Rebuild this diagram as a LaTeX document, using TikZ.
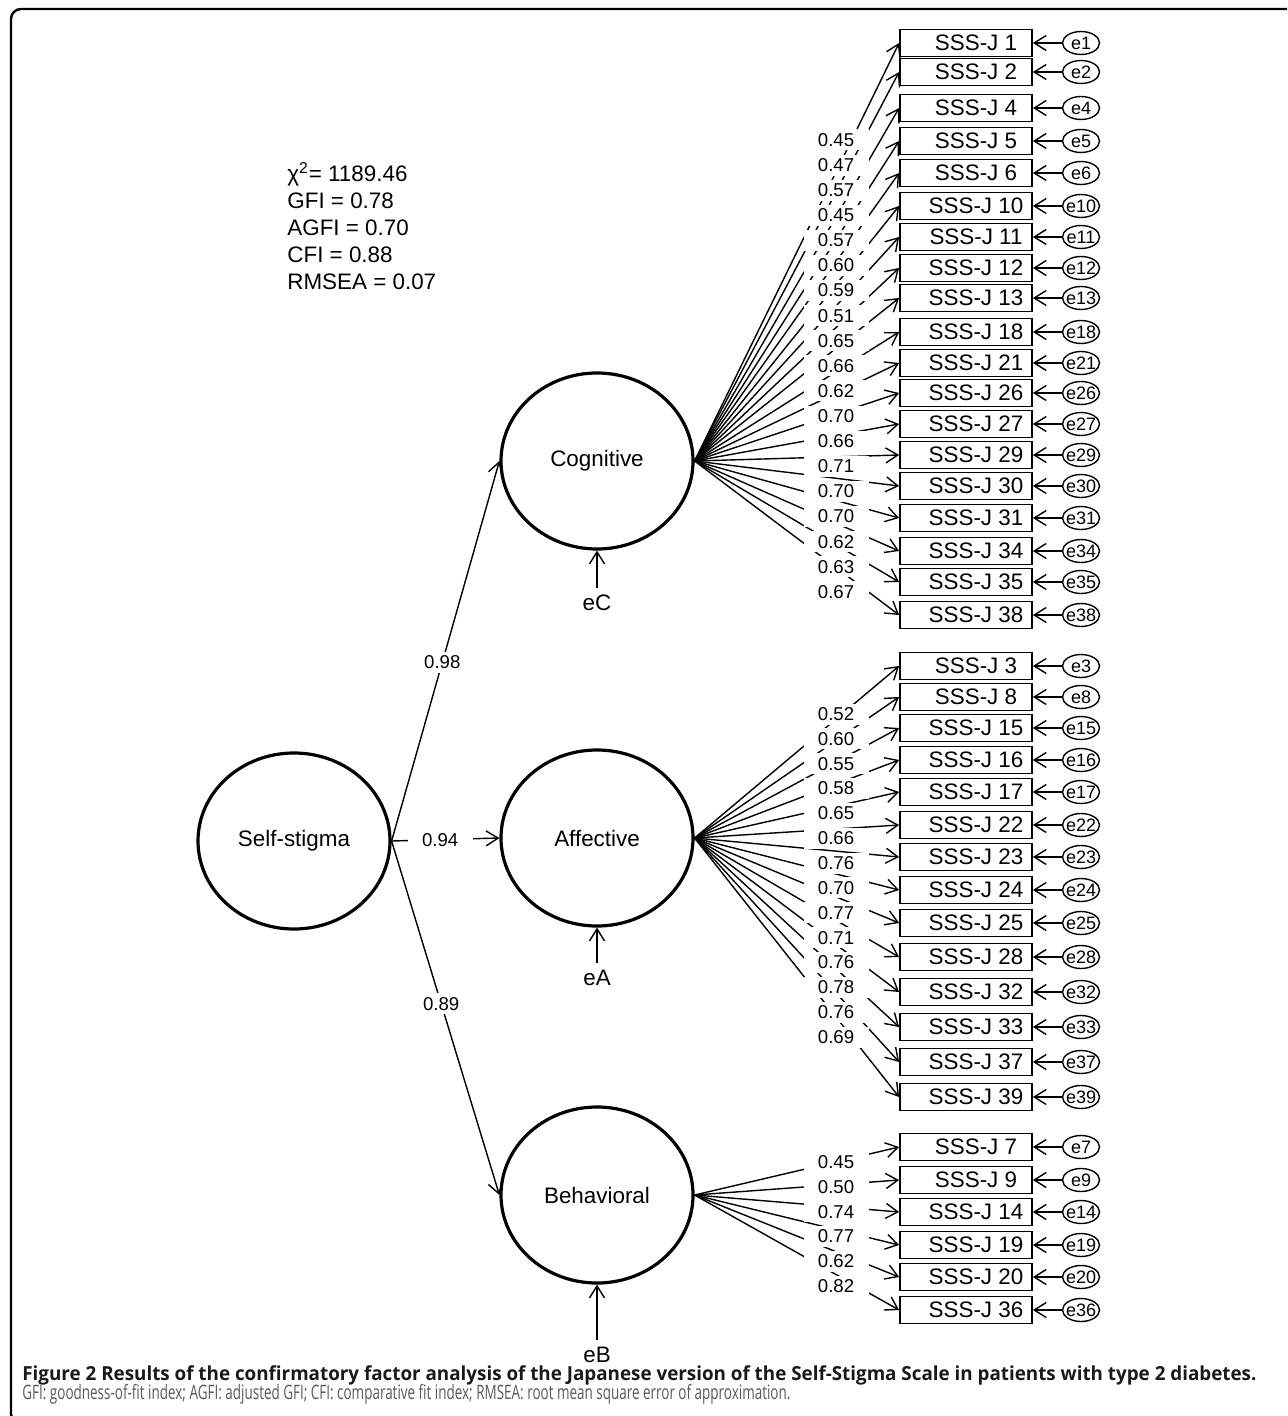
\documentclass[tikz,border=0pt]{standalone}
\usepackage{fontspec}
\setmainfont{Liberation Sans}
\newfontfamily\capfont{Open Sans}
\usepackage{graphicx}
\usetikzlibrary{shapes.geometric,arrows.meta,positioning}

\begin{document}
\begin{tikzpicture}
        [
        x=0.5pt, y=-0.5pt,
        every node/.style={font=\fontsize{11.2}{13.5}\selectfont},
        latent/.style={ellipse, draw, line width=1.6pt, minimum width=96pt, minimum height=88pt, inner sep=0pt},
        item/.style={draw, line width=0.9pt, minimum width=66pt, minimum height=13.5pt, inner sep=0pt},
        err/.style={ellipse, draw, line width=0.7pt, minimum width=18.5pt, minimum height=11.5pt, inner xsep=-2pt, inner ysep=0pt, font=\fontsize{9}{10}\selectfont},
        coef/.style={fill=white, inner sep=0pt, minimum width=32.5pt, minimum height=10.5pt, font=\fontsize{9.3}{10}\selectfont},
        load/.style={-{Straight Barb[length=6pt,width=7.5pt]}, line width=0.7pt}
        ]
        \useasboundingbox (0,0) rectangle (1287,1416);
        % Frame
        \begin{scope}
          \clip (0,0) rectangle (1287,1416);
          \draw[line width=1.2pt, rounded corners=5pt] (1300,9) -- (11,9) -- (11,1424) -- (60,1424);
        \end{scope}
        % Fit indices
        \node[anchor=north west, align=left, inner sep=0pt] (fit) at (287,162)
          {χ\textsuperscript{2}= 1189.46\\GFI = 0.78\\AGFI = 0.70\\CFI = 0.88\\RMSEA = 0.07};
        % Second-order factor
        \node[latent] (ss) at (294,841) {Self-stigma};
        % First-order factors
        \node[latent] (cog) at (597,461) {Cognitive};
        \node[latent] (aff) at (597,838) {Affective};
        \node[latent] (beh) at (597,1195) {Behavioral};
        \draw[load] (ss.east) -- node[coef, pos=0.47] (l98) {0.98} (cog.west);
        \draw[load] (ss.east) -- node[coef, pos=0.45] (l94) {0.94} (aff.west);
        \draw[load] (ss.east) -- node[coef, pos=0.46] (l89) {0.89} (beh.west);
        % Disturbances
        \node (eC) at (597,603) {eC};
        \node (eA) at (597,978) {eA};
        \node (eB) at (597,1355) {eB};
        \draw[load] (eC.north) -- (cog.south);
        \draw[load] (eA.north) -- (aff.south);
        \draw[load] (eB.north) -- (beh.south);
        % Cognitive items
        \foreach \n/\y in {1/43, 2/72, 4/108, 5/141, 6/173, 10/206, 11/237, 12/268, 13/298, 18/332,
                           21/363, 26/393, 27/424, 29/455, 30/486, 31/518, 34/551, 35/582, 38/615} {
          \node[item] (s\n) at (966,\y) {\hspace*{10pt}SSS-J \n};
          \node[err] (e\n) at (1081,\y) {e\n};
          \draw[load] (e\n.west) -- (s\n.east);
          \draw[load] (cog.east) -- (s\n.west);
        }
        % Affective items
        \foreach \n/\y in {3/666, 8/697, 15/728, 16/760, 17/792, 22/825, 23/857, 24/890, 25/923,
                           28/957, 32/992, 33/1027, 37/1062, 39/1097} {
          \node[item] (s\n) at (966,\y) {\hspace*{10pt}SSS-J \n};
          \node[err] (e\n) at (1081,\y) {e\n};
          \draw[load] (e\n.west) -- (s\n.east);
          \draw[load] (aff.east) -- (s\n.west);
        }
        % Behavioral items
        \foreach \n/\y in {7/1147, 9/1180, 14/1212, 19/1245, 20/1277, 36/1310} {
          \node[item] (s\n) at (966,\y) {\hspace*{10pt}SSS-J \n};
          \node[err] (e\n) at (1081,\y) {e\n};
          \draw[load] (e\n.west) -- (s\n.east);
          \draw[load] (beh.east) -- (s\n.west);
        }
        % Loadings
        \foreach \c [count=\i from 0] in {0.45, 0.47, 0.57, 0.45, 0.57, 0.60, 0.59, 0.51, 0.65, 0.66,
                                          0.62, 0.70, 0.66, 0.71, 0.70, 0.70, 0.62, 0.63, 0.67}
          \node[coef] (lc\i) at (836,{140+25.1*\i}) {\c};
        \foreach \c [count=\i from 0] in {0.52, 0.60, 0.55, 0.58, 0.65, 0.66, 0.76, 0.70, 0.77,
                                          0.71, 0.76, 0.78, 0.76, 0.69}
          \node[coef] (la\i) at (836,{714+24.85*\i}) {\c};
        \foreach \c [count=\i from 0] in {0.45, 0.50, 0.74, 0.77, 0.62, 0.82}
          \node[coef] (lb\i) at (836,{1162+24.8*\i}) {\c};
        % Caption
        \node[anchor=base west, inner sep=0pt, text=black!90] (cap1) at (22,1380)
          {\resizebox{617pt}{7.4pt}{\capfont\bfseries Figure 2 Results of the confirmatory factor analysis of the Japanese version of the Self-Stigma Scale in patients with type 2 diabetes.}};
        \node[anchor=base west, inner sep=0pt, text=black!65] (cap2) at (22,1399)
          {\resizebox{384pt}{7.6pt}{\capfont GFI: goodness-of-fit index; AGFI: adjusted GFI; CFI: comparative fit index; RMSEA: root mean square error of approximation.}};
    \end{tikzpicture}
\end{document}
